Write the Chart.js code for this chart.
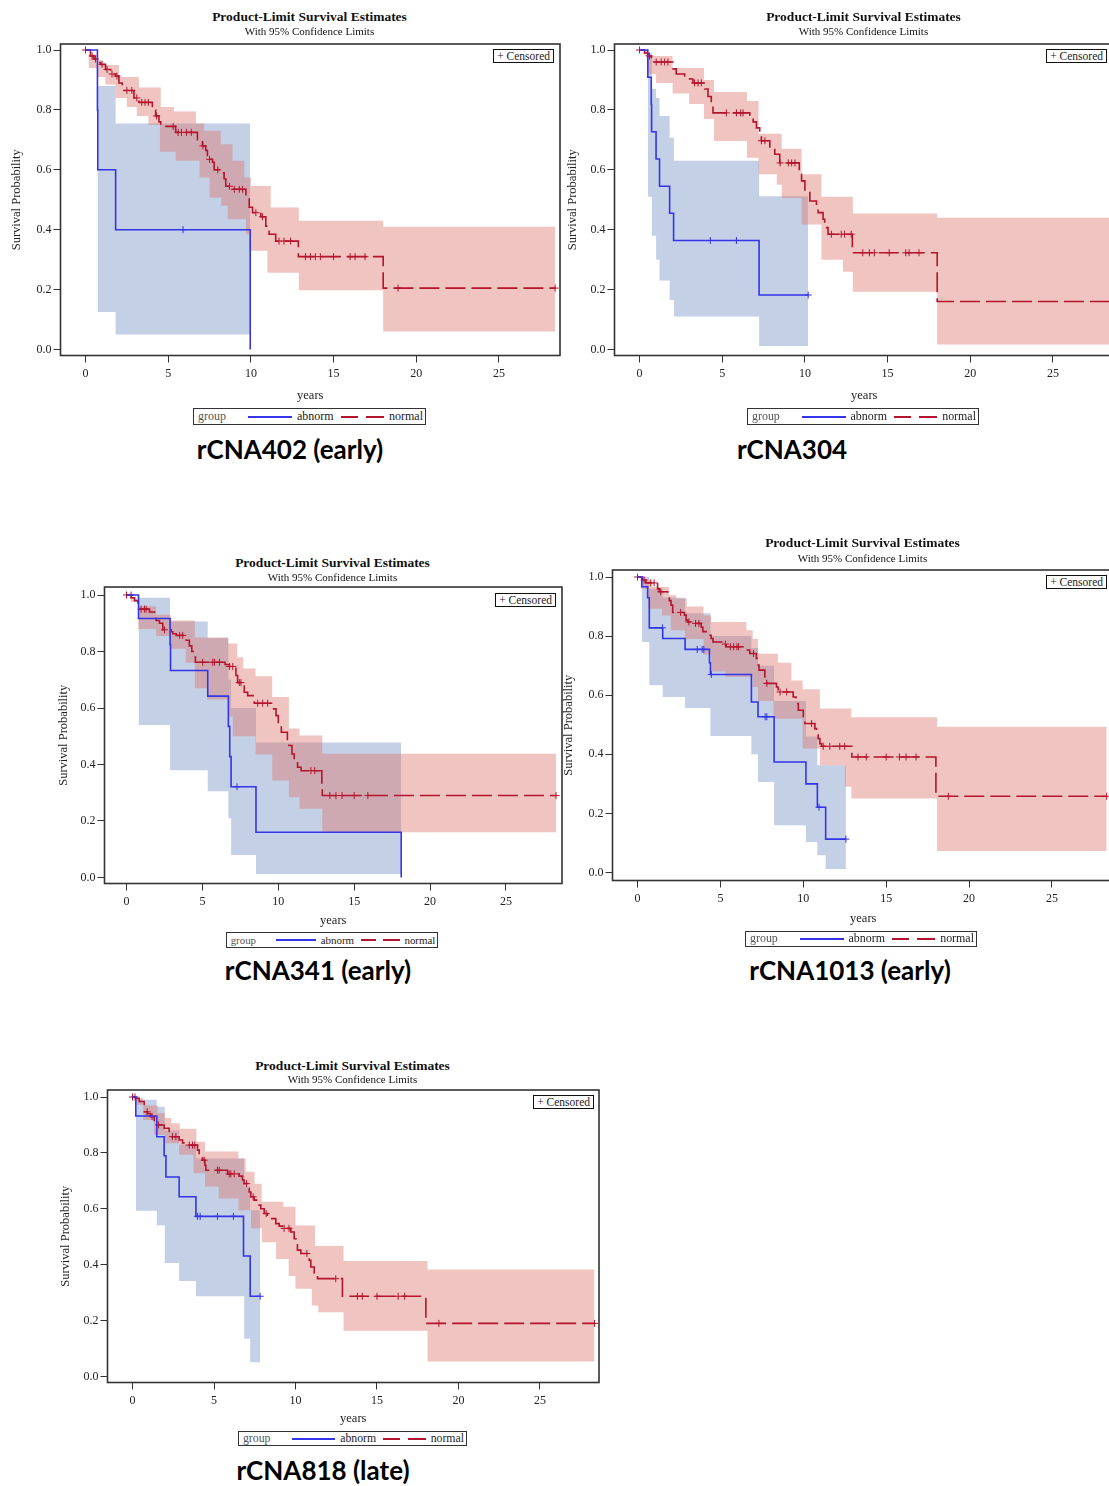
<!DOCTYPE html>
<html>
<head>
<meta charset="utf-8">
<script src="https://cdn.jsdelivr.net/npm/chart.js@4.4.1/dist/chart.umd.min.js"></script>
<style>
  html, body { margin: 0; padding: 0; background: #fff; }
  body { width: 1109px; height: 1486px; position: relative; overflow: hidden;
         font-family: "Liberation Serif", "DejaVu Serif", serif; color: #222; }
  canvas { position: absolute; }
  .t { position: absolute; white-space: nowrap; transform: translate(-50%, -50%); }
  .title { font-weight: bold; font-size: 13.5px; color: #111; }
  .sub { font-size: 11px; color: #111; }
  .caption { font-family: Lato, "Noto Sans", sans-serif; font-weight: 700; font-size: 26px; color: #000; }
  .legend { position: absolute; border: 1.5px solid #333; box-sizing: border-box; }
  .legend span { position: absolute; top: 50%; transform: translateY(-52%); white-space: nowrap; }
  .legend b { position: absolute; top: 50%; height: 2px; margin-top: -1px; display: block; }
  .cens { position: absolute; border: 1.6px solid #111; font-size: 11.5px; padding: 0 3px; line-height: 12px;
          background: #fff; white-space: nowrap; }
</style>
</head>
<body>
<script>
// Kaplan-Meier panels: abnorm vs normal, with 95% confidence bands
(function() {
  'use strict';

  var xTickValues = [0, 5, 10, 15, 20, 25];
  var xTickLabels = ['0', '5', '10', '15', '20', '25'];
  var yTickValues = [0, 0.2, 0.4, 0.6, 0.8, 1.0];
  var yTickLabels = ['0.0', '0.2', '0.4', '0.6', '0.8', '1.0'];
  var groupNames = ['abnorm', 'normal'];
  var panelCaptions = ['rCNA402 (early)', 'rCNA304', 'rCNA341 (early)', 'rCNA1013 (early)', 'rCNA818 (late)'];

  // ---- rCNA402 (early)
  var p1AbnT = [0.72, 0.74, 1.82, 9.96];
  var p1AbnS = [0.80, 0.60, 0.40, 0.0];
  var p1AbnCens = [5.9];
  var p1AbnEnd = 9.96;
  var p1AbnBandT = [0.72, 1.82];
  var p1AbnUp = [0.88, 0.755];
  var p1AbnLo = [0.125, 0.05];
  var p1NorT = [0.30, 0.51, 0.71, 0.91, 1.21, 1.52, 1.82, 2.02, 2.22, 2.93, 3.23, 4.04, 4.24, 4.44, 4.55, 5.45, 6.77, 7.07, 7.27, 7.37, 7.68, 7.78, 8.08, 8.38, 8.48, 8.79, 9.70, 9.90, 10.1, 10.6, 10.9, 11.1, 11.5, 12.87, 18.0];
  var p1NorS = [0.98, 0.97, 0.958, 0.952, 0.935, 0.92, 0.913, 0.89, 0.865, 0.84, 0.825, 0.80, 0.78, 0.76, 0.745, 0.725, 0.70, 0.68, 0.665, 0.635, 0.625, 0.60, 0.59, 0.57, 0.545, 0.535, 0.507, 0.475, 0.457, 0.443, 0.412, 0.385, 0.362, 0.31, 0.205];
  var p1NorCens = [0, 0.4, 0.6, 1.0, 1.3, 1.6, 1.9, 2.5, 2.8, 3.1, 3.4, 3.6, 3.8, 4.3, 5.3, 5.6, 5.8, 6.1, 6.4, 7.1, 7.5, 8.0, 8.7, 9.0, 9.3, 9.5, 10.3, 10.7, 11.7, 12.0, 12.4, 13.3, 13.6, 13.9, 14.2, 15.0, 16.0, 16.3, 16.9, 18.9, 28.4];
  var p1NorEnd = 28.4;
  var p1NorUpT = [0, 0.2, 0.71, 1.01, 2.02, 3.23, 4.55, 5.35, 6.67, 7.17, 8.18, 8.89, 9.6, 10.0, 11.2, 12.9, 18.0];
  var p1NorUp = [1.0, 0.985, 0.966, 0.95, 0.91, 0.875, 0.81, 0.795, 0.755, 0.73, 0.685, 0.63, 0.574, 0.546, 0.474, 0.43, 0.41];
  var p1NorLoT = [0, 0.2, 0.7, 1.2, 1.82, 2.5, 3.1, 3.8, 4.5, 5.45, 6.9, 7.5, 8.2, 8.6, 9.7, 9.9, 11.0, 12.9, 18.0];
  var p1NorLo = [1.0, 0.94, 0.91, 0.885, 0.84, 0.81, 0.78, 0.75, 0.66, 0.63, 0.574, 0.507, 0.48, 0.435, 0.385, 0.33, 0.256, 0.198, 0.06];

  // ---- rCNA304
  var p2AbnT = [0.5, 0.71, 0.73, 1.0, 1.21, 1.82, 2.06, 7.23];
  var p2AbnS = [0.909, 0.818, 0.727, 0.636, 0.545, 0.455, 0.364, 0.182];
  var p2AbnCens = [4.28, 5.86, 10.2];
  var p2AbnEnd = 10.2;
  var p2AbnBandT = [0.5, 0.75, 1.0, 1.21, 1.82, 2.08, 7.23];
  var p2AbnUp = [0.99, 0.87, 0.84, 0.78, 0.707, 0.63, 0.512];
  var p2AbnLo = [0.51, 0.38, 0.30, 0.23, 0.165, 0.11, 0.012];
  var p2NorT = [0.3, 0.51, 0.71, 2.02, 2.22, 2.73, 3.03, 3.23, 3.94, 4.14, 4.34, 4.44, 6.67, 6.87, 7.07, 7.27, 7.37, 7.88, 8.18, 8.48, 9.66, 9.8, 10.0, 10.3, 10.7, 10.8, 11.1, 11.2, 11.4, 12.87, 18.0];
  var p2NorS = [0.99, 0.98, 0.96, 0.937, 0.92, 0.91, 0.903, 0.89, 0.87, 0.845, 0.82, 0.79, 0.775, 0.76, 0.74, 0.72, 0.697, 0.672, 0.652, 0.623, 0.585, 0.563, 0.53, 0.496, 0.474, 0.457, 0.435, 0.407, 0.385, 0.323, 0.16];
  var p2NorCens = [0, 0.6, 1.01, 1.31, 1.52, 1.72, 3.33, 3.54, 3.74, 5.25, 5.86, 6.12, 6.26, 7.37, 7.58, 8.5, 9.0, 9.2, 9.4, 11.6, 12.2, 12.4, 12.8, 13.5, 13.9, 14.2, 15.1, 16.1, 16.3, 16.9, 28.5];
  var p2NorEnd = 28.5;
  var p2NorUpT = [0, 0.3, 2.0, 3.9, 4.5, 6.5, 7.2, 8.6, 9.8, 11.0, 12.9, 18.0];
  var p2NorUp = [1.0, 0.98, 0.94, 0.90, 0.86, 0.83, 0.72, 0.67, 0.585, 0.51, 0.454, 0.44];
  var p2NorLoT = [0, 0.5, 1.0, 2.0, 3.0, 3.9, 4.5, 6.5, 7.2, 8.3, 8.6, 9.8, 11.0, 12.3, 12.9, 18.0];
  var p2NorLo = [1.0, 0.92, 0.89, 0.855, 0.82, 0.77, 0.696, 0.64, 0.585, 0.55, 0.506, 0.417, 0.30, 0.26, 0.193, 0.017];

  // ---- rCNA341 (early)
  var p3AbnT = [0.79, 2.87, 2.9, 5.35, 6.71, 6.8, 6.89, 8.53, 18.1];
  var p3AbnS = [0.917, 0.825, 0.733, 0.642, 0.535, 0.428, 0.321, 0.16, 0.0];
  var p3AbnCens = [7.28];
  var p3AbnEnd = 18.1;
  var p3AbnBandT = [0.79, 2.87, 5.35, 6.71, 6.89, 8.53];
  var p3AbnUp = [0.99, 0.906, 0.848, 0.70, 0.60, 0.478];
  var p3AbnLo = [0.54, 0.38, 0.305, 0.21, 0.08, 0.012];
  var p3NorT = [0.31, 0.53, 0.75, 1.51, 1.84, 1.95, 2.17, 2.39, 2.94, 3.05, 3.27, 3.93, 4.14, 4.3, 4.47, 4.54, 6.49, 6.78, 7.21, 7.32, 7.76, 7.98, 8.42, 9.69, 9.85, 10.0, 10.2, 10.6, 10.7, 10.9, 11.05, 11.27, 11.5, 12.87, 12.9];
  var p3NorS = [0.99, 0.98, 0.95, 0.94, 0.93, 0.91, 0.90, 0.877, 0.87, 0.863, 0.857, 0.84, 0.82, 0.80, 0.78, 0.762, 0.754, 0.747, 0.715, 0.69, 0.656, 0.644, 0.617, 0.597, 0.573, 0.538, 0.514, 0.485, 0.467, 0.437, 0.414, 0.39, 0.378, 0.33, 0.29];
  var p3NorCens = [0, 0.3, 0.96, 1.18, 1.29, 2.5, 3.5, 3.7, 5.02, 5.68, 5.79, 6.12, 6.78, 7.0, 7.43, 7.54, 8.64, 8.97, 9.3, 12.15, 12.4, 13.4, 13.8, 14.2, 15.0, 15.9, 28.3];
  var p3NorEnd = 28.3;
  var p3NorUpT = [0, 0.3, 0.75, 1.95, 2.9, 4.5, 6.7, 7.3, 7.7, 8.5, 9.6, 10.7, 11.4, 12.9];
  var p3NorUp = [1.0, 0.985, 0.96, 0.93, 0.91, 0.85, 0.828, 0.78, 0.74, 0.712, 0.639, 0.527, 0.503, 0.438];
  var p3NorLoT = [0, 0.3, 0.78, 1.95, 2.9, 3.9, 4.5, 5.3, 6.7, 7.0, 8.5, 9.6, 10.7, 11.4, 12.9];
  var p3NorLo = [1.0, 0.975, 0.88, 0.855, 0.81, 0.76, 0.67, 0.63, 0.57, 0.50, 0.435, 0.343, 0.284, 0.243, 0.16];

  // ---- rCNA1013 (early)
  var p4AbnT = [0.26, 0.61, 0.71, 1.52, 2.87, 4.34, 4.40, 6.87, 7.27, 8.24, 10.16, 10.85, 11.35];
  var p4AbnS = [0.967, 0.93, 0.828, 0.792, 0.755, 0.71, 0.67, 0.577, 0.527, 0.374, 0.30, 0.221, 0.113];
  var p4AbnCens = [1.5, 3.6, 3.9, 4.0, 4.45, 7.7, 7.8, 10.95, 12.57];
  var p4AbnEnd = 12.57;
  var p4AbnBandT = [0.26, 0.71, 1.52, 2.87, 4.4, 6.87, 7.27, 8.24, 10.16, 10.85, 11.35];
  var p4AbnUp = [1.0, 0.96, 0.93, 0.877, 0.80, 0.76, 0.70, 0.58, 0.46, 0.363, 0.363];
  var p4AbnLo = [0.78, 0.634, 0.594, 0.557, 0.462, 0.40, 0.306, 0.16, 0.103, 0.058, 0.012];
  var p4NorT = [0.3, 0.5, 1.21, 1.31, 1.82, 1.92, 2.02, 2.12, 2.83, 2.93, 3.03, 3.23, 3.84, 3.94, 4.24, 4.44, 4.55, 5.15, 5.35, 6.57, 6.77, 7.17, 7.27, 7.33, 7.68, 7.78, 8.38, 8.48, 9.39, 9.56, 9.7, 10.0, 10.1, 10.7, 10.8, 10.9, 11.0, 11.1, 12.93, 18.0];
  var p4NorS = [0.99, 0.98, 0.96, 0.95, 0.944, 0.92, 0.905, 0.88, 0.871, 0.854, 0.848, 0.843, 0.83, 0.815, 0.803, 0.792, 0.78, 0.773, 0.764, 0.753, 0.741, 0.724, 0.702, 0.685, 0.662, 0.64, 0.628, 0.611, 0.594, 0.572, 0.549, 0.527, 0.504, 0.487, 0.47, 0.453, 0.436, 0.427, 0.391, 0.258];
  var p4NorCens = [0, 0.4, 0.8, 1.0, 1.4, 2.6, 3.1, 3.5, 3.7, 5.3, 5.6, 5.8, 6.0, 6.1, 7.0, 7.8, 8.6, 9.0, 10.5, 11.2, 11.6, 12.2, 12.5, 13.3, 13.8, 15.0, 15.8, 16.2, 16.8, 18.75, 28.3];
  var p4NorEnd = 28.3;
  var p4NorUpT = [0, 0.2, 0.85, 1.9, 2.33, 2.97, 3.98, 4.45, 6.57, 6.95, 7.27, 8.47, 9.28, 9.96, 11.0, 12.9, 18.07];
  var p4NorUp = [1.0, 0.99, 0.966, 0.938, 0.927, 0.90, 0.87, 0.848, 0.82, 0.79, 0.74, 0.71, 0.65, 0.62, 0.555, 0.525, 0.493];
  var p4NorLoT = [0, 0.2, 0.64, 1.48, 2.0, 2.86, 3.98, 4.45, 5.3, 6.95, 7.27, 8.2, 9.96, 11.0, 12.5, 12.9, 18.07];
  var p4NorLo = [1.0, 0.96, 0.893, 0.87, 0.82, 0.79, 0.738, 0.68, 0.662, 0.628, 0.58, 0.52, 0.42, 0.363, 0.29, 0.25, 0.073];

  // ---- rCNA818 (late)
  var p5AbnT = [0.2, 1.49, 1.94, 2.05, 2.86, 3.89, 6.81, 7.22];
  var p5AbnS = [0.932, 0.858, 0.79, 0.714, 0.643, 0.573, 0.431, 0.287];
  var p5AbnCens = [3.99, 4.15, 5.21, 6.19, 7.83];
  var p5AbnEnd = 7.83;
  var p5AbnBandT = [0.2, 1.49, 1.98, 2.86, 3.89, 6.85, 7.22];
  var p5AbnUp = [0.99, 0.965, 0.88, 0.83, 0.78, 0.68, 0.595];
  var p5AbnLo = [0.593, 0.541, 0.406, 0.342, 0.287, 0.135, 0.051];
  var p5NorT = [0.2, 0.41, 0.72, 0.92, 1.12, 1.33, 1.53, 1.94, 2.25, 2.86, 3.07, 3.27, 3.99, 4.09, 4.29, 4.44, 4.5, 5.83, 6.54, 6.75, 6.85, 7.06, 7.16, 7.26, 7.46, 7.67, 7.87, 8.08, 8.28, 8.79, 9.0, 9.2, 9.71, 9.92, 10.12, 10.33, 10.84, 10.94, 11.15, 11.35, 12.88, 18.0];
  var p5NorS = [0.995, 0.984, 0.947, 0.94, 0.93, 0.905, 0.90, 0.888, 0.858, 0.846, 0.836, 0.828, 0.81, 0.792, 0.774, 0.756, 0.738, 0.725, 0.717, 0.703, 0.69, 0.673, 0.66, 0.643, 0.631, 0.613, 0.60, 0.583, 0.565, 0.547, 0.538, 0.53, 0.517, 0.493, 0.452, 0.44, 0.416, 0.392, 0.37, 0.35, 0.287, 0.19];
  var p5NorCens = [0, 0.15, 0.9, 1.2, 1.6, 2.45, 2.66, 3.48, 3.68, 3.82, 4.4, 5.21, 5.32, 5.93, 6.03, 6.24, 7.0, 7.4, 8.2, 9.3, 9.6, 10.7, 12.47, 13.8, 14.1, 15.0, 16.3, 16.7, 18.8, 28.35];
  var p5NorEnd = 28.35;
  var p5NorUpT = [0, 0.22, 0.66, 1.54, 1.98, 2.38, 2.9, 3.92, 4.45, 6.5, 6.94, 7.49, 7.93, 9.25, 10.0, 11.2, 12.95, 18.1];
  var p5NorUp = [1.0, 0.996, 0.97, 0.943, 0.925, 0.906, 0.886, 0.84, 0.805, 0.78, 0.733, 0.69, 0.625, 0.607, 0.54, 0.467, 0.413, 0.383];
  var p5NorLoT = [0, 0.22, 0.66, 1.32, 1.98, 2.86, 3.74, 4.45, 5.29, 6.5, 7.27, 7.93, 8.81, 9.58, 10.0, 11.0, 11.4, 12.95, 18.1];
  var p5NorLo = [1.0, 0.972, 0.918, 0.865, 0.835, 0.793, 0.727, 0.68, 0.637, 0.595, 0.53, 0.48, 0.42, 0.36, 0.314, 0.254, 0.23, 0.164, 0.054];

  var panels = [
    { abnT: p1AbnT, abnS: p1AbnS, abnCens: p1AbnCens, abnEnd: p1AbnEnd, abnBandT: p1AbnBandT, abnUp: p1AbnUp, abnLo: p1AbnLo,
      norT: p1NorT, norS: p1NorS, norCens: p1NorCens, norEnd: p1NorEnd, norUpT: p1NorUpT, norUp: p1NorUp, norLoT: p1NorLoT, norLo: p1NorLo },
    { abnT: p2AbnT, abnS: p2AbnS, abnCens: p2AbnCens, abnEnd: p2AbnEnd, abnBandT: p2AbnBandT, abnUp: p2AbnUp, abnLo: p2AbnLo,
      norT: p2NorT, norS: p2NorS, norCens: p2NorCens, norEnd: p2NorEnd, norUpT: p2NorUpT, norUp: p2NorUp, norLoT: p2NorLoT, norLo: p2NorLo },
    { abnT: p3AbnT, abnS: p3AbnS, abnCens: p3AbnCens, abnEnd: p3AbnEnd, abnBandT: p3AbnBandT, abnUp: p3AbnUp, abnLo: p3AbnLo,
      norT: p3NorT, norS: p3NorS, norCens: p3NorCens, norEnd: p3NorEnd, norUpT: p3NorUpT, norUp: p3NorUp, norLoT: p3NorLoT, norLo: p3NorLo },
    { abnT: p4AbnT, abnS: p4AbnS, abnCens: p4AbnCens, abnEnd: p4AbnEnd, abnBandT: p4AbnBandT, abnUp: p4AbnUp, abnLo: p4AbnLo,
      norT: p4NorT, norS: p4NorS, norCens: p4NorCens, norEnd: p4NorEnd, norUpT: p4NorUpT, norUp: p4NorUp, norLoT: p4NorLoT, norLo: p4NorLo },
    { abnT: p5AbnT, abnS: p5AbnS, abnCens: p5AbnCens, abnEnd: p5AbnEnd, abnBandT: p5AbnBandT, abnUp: p5AbnUp, abnLo: p5AbnLo,
      norT: p5NorT, norS: p5NorS, norCens: p5NorCens, norEnd: p5NorEnd, norUpT: p5NorUpT, norUp: p5NorUp, norLoT: p5NorLoT, norLo: p5NorLo }
  ];

  // page placement of each panel (frame = plot box l,t,r,b; pixel positions of x=0, x=25, y=1, y=0)
  var layouts = [
    { frame: [60, 44, 559, 355], x0: 85, x25: 498, y1: 50, y0: 349, yTitleX: 16, yearsY: 395, titleY: 17, subY: 31,
      legend: [193, 408, 233, 17], caption: [290, 449], cens: [554, 49] },
    { frame: [614, 44, 1113, 355], x0: 639, x25: 1052, y1: 50, y0: 349, yTitleX: 572, yearsY: 395, titleY: 17, subY: 31,
      legend: [747, 408, 232, 17], caption: [792, 449], cens: [1107, 49] },
    { frame: [104, 587, 561, 883], x0: 126, x25: 505, y1: 595, y0: 877, yTitleX: 63, yearsY: 920, titleY: 563, subY: 577,
      legend: [226, 932, 212, 16], caption: [318, 970], cens: [556, 593] },
    { frame: [612, 570, 1113, 880], x0: 637, x25: 1051, y1: 577, y0: 872, yTitleX: 568, yearsY: 918, titleY: 543, subY: 558,
      legend: [745, 931, 232, 16], caption: [850, 970], cens: [1107, 575] },
    { frame: [107, 1090, 598, 1382], x0: 132, x25: 539, y1: 1097, y0: 1376, yTitleX: 65, yearsY: 1418, titleY: 1066, subY: 1079,
      legend: [238, 1431, 229, 15], caption: [323, 1470], cens: [594, 1095] }
  ];

  var abnColor = '#3434ea';
  var norColor = '#b5142d';
  var abnFill = 'rgba(115, 146, 197, 0.43)';
  var norFill = 'rgba(220, 118, 108, 0.43)';
  var serif = "'Liberation Serif', 'DejaVu Serif', serif";

  function survAt(times, surv, t) {
    var s = 1;
    for (var i = 0; i < times.length; i++) {
      if (times[i] <= t) s = surv[i];
    }
    return s;
  }

  function kmPoints(times, surv, end) {
    var pts = [{ x: 0, y: 1 }];
    for (var i = 0; i < times.length; i++) pts.push({ x: times[i], y: surv[i] });
    pts.push({ x: end, y: surv[surv.length - 1] });
    return pts;
  }

  function bandPoints(times, vals, end) {
    var pts = times.map(function(t, i) { return { x: t, y: vals[i] }; });
    pts.push({ x: end, y: vals[vals.length - 1] });
    return pts;
  }

  function censorPoints(cens, times, surv) {
    return cens.map(function(t) { return { x: t, y: survAt(times, surv, t) }; });
  }

  var framePlugin = {
    id: 'frame',
    afterDatasetsDraw: function(chart) {
      var a = chart.chartArea, ctx = chart.ctx;
      ctx.save();
      ctx.strokeStyle = '#333';
      ctx.lineWidth = 1.6;
      ctx.strokeRect(a.left, a.top, a.right - a.left, a.bottom - a.top);
      ctx.restore();
    }
  };

  function put(cls, text, x, y) {
    var d = document.createElement('div');
    d.className = 't ' + cls;
    d.textContent = text;
    d.style.left = x + 'px';
    d.style.top = y + 'px';
    document.body.appendChild(d);
  }

  function putLegend(box) {
    var el = document.createElement('div');
    el.className = 'legend';
    el.style.left = box[0] + 'px';
    el.style.top = box[1] + 'px';
    el.style.width = box[2] + 'px';
    el.style.height = box[3] + 'px';
    var k = box[2] / 233;
    el.style.fontSize = (12 * k) + 'px';
    function span(text, x, color) {
      var s = document.createElement('span');
      s.textContent = text;
      s.style.left = (x * k) + 'px';
      s.style.color = color;
      el.appendChild(s);
    }
    function seg(x, w, color) {
      var b = document.createElement('b');
      b.style.left = (x * k) + 'px';
      b.style.width = (w * k) + 'px';
      b.style.background = color;
      el.appendChild(b);
    }
    span('group', 4, '#555');
    seg(54, 44, abnColor);
    span(groupNames[0], 103, '#222');
    seg(147, 17, norColor);
    seg(172, 18, norColor);
    span(groupNames[1], 195, '#222');
    document.body.appendChild(el);
  }

  function putCensored(pos) {
    var d = document.createElement('div');
    d.className = 'cens';
    d.textContent = '+ Censored';
    d.style.top = pos[1] + 'px';
    d.style.right = (1109 - pos[0]) + 'px';
    document.body.appendChild(d);
  }

  function buildPanel(p, L, idx) {
    var fl = L.frame[0], ft = L.frame[1], fr = L.frame[2], fb = L.frame[3];
    var pxYear = (L.x25 - L.x0) / 25;
    var pxUnit = L.y0 - L.y1;
    var xmin = (fl - L.x0) / pxYear;
    var xmax = (fr - L.x0) / pxYear;
    var ymax = 1 + (L.y1 - ft) / pxUnit;
    var ymin = -(fb - L.y0) / pxUnit;

    var left = L.yTitleX - 7.5;
    var top = ft - 12;
    var right = fr + 10;
    var bottom = L.yearsY + 7.5;
    var yAxisW = fl - left;
    var xAxisH = bottom - fb;

    var canvas = document.createElement('canvas');
    canvas.width = Math.round(right - left);
    canvas.height = Math.round(bottom - top);
    canvas.style.left = left + 'px';
    canvas.style.top = top + 'px';
    canvas.style.width = canvas.width + 'px';
    canvas.style.height = canvas.height + 'px';
    document.body.appendChild(canvas);

    var datasets = [
      { label: groupNames[0], data: kmPoints(p.abnT, p.abnS, p.abnEnd), stepped: true,
        borderColor: abnColor, borderWidth: 1.6, pointRadius: 0, fill: false },
      { label: groupNames[1], data: kmPoints(p.norT, p.norS, p.norEnd), stepped: true,
        borderColor: norColor, borderWidth: 1.6, borderDash: [20, 6], pointRadius: 0, fill: false },
      { label: 'abnCens', data: censorPoints(p.abnCens, p.abnT, p.abnS), showLine: false,
        pointStyle: 'cross', pointRadius: 3.5, pointBorderWidth: 1, pointBorderColor: abnColor, borderColor: abnColor },
      { label: 'norCens', data: censorPoints(p.norCens, p.norT, p.norS), showLine: false,
        pointStyle: 'cross', pointRadius: 3.5, pointBorderWidth: 1, pointBorderColor: norColor, borderColor: norColor },
      { label: 'norUp', data: bandPoints(p.norUpT, p.norUp, p.norEnd), stepped: true,
        borderWidth: 0, borderColor: 'transparent', pointRadius: 0, fill: '+1', backgroundColor: norFill },
      { label: 'norLo', data: bandPoints(p.norLoT, p.norLo, p.norEnd), stepped: true,
        borderWidth: 0, borderColor: 'transparent', pointRadius: 0, fill: false },
      { label: 'abnUp', data: bandPoints(p.abnBandT, p.abnUp, p.abnEnd), stepped: true,
        borderWidth: 0, borderColor: 'transparent', pointRadius: 0, fill: '+1', backgroundColor: abnFill },
      { label: 'abnLo', data: bandPoints(p.abnBandT, p.abnLo, p.abnEnd), stepped: true,
        borderWidth: 0, borderColor: 'transparent', pointRadius: 0, fill: false }
    ];

    new Chart(canvas.getContext('2d'), {
      type: 'line',
      data: { datasets: datasets },
      plugins: [framePlugin],
      options: {
        responsive: false,
        animation: false,
        devicePixelRatio: 1,
        events: [],
        layout: { padding: { top: ft - top, right: right - fr, left: 0, bottom: 0 } },
        plugins: { legend: { display: false }, tooltip: { enabled: false }, title: { display: false } },
        scales: {
          x: {
            type: 'linear', min: xmin, max: xmax,
            afterBuildTicks: function(s) { s.ticks = xTickValues.map(function(v) { return { value: v }; }); },
            afterFit: function(s) { s.height = xAxisH; },
            grid: { drawOnChartArea: false, drawTicks: true, tickLength: 7, color: '#333', lineWidth: 1 },
            border: { display: false },
            ticks: { color: '#222', font: { family: serif, size: 12 }, padding: 4, maxRotation: 0, autoSkip: false,
                     callback: function(v, i) { return xTickLabels[i]; } },
            title: { display: true, text: 'years', color: '#222', font: { family: serif, size: 12.5 }, padding: 0 }
          },
          y: {
            type: 'linear', min: ymin, max: ymax,
            afterBuildTicks: function(s) { s.ticks = yTickValues.map(function(v) { return { value: v }; }); },
            afterFit: function(s) { s.width = yAxisW; },
            grid: { drawOnChartArea: false, drawTicks: true, tickLength: 7, color: '#333', lineWidth: 1 },
            border: { display: false },
            ticks: { color: '#222', font: { family: serif, size: 12 }, padding: 2, autoSkip: false,
                     callback: function(v, i) { return yTickLabels[i]; } },
            title: { display: true, text: 'Survival Probability', color: '#222', font: { family: serif, size: 12.5 }, padding: 0 }
          }
        }
      }
    });

    var cx = (fl + fr) / 2;
    put('title', 'Product-Limit Survival Estimates', cx, L.titleY);
    put('sub', 'With 95% Confidence Limits', cx, L.subY);
    putCensored(L.cens);
    putLegend(L.legend);
    put('caption', panelCaptions[idx], L.caption[0], L.caption[1]);
  }

  function init() {
    panels.forEach(function(p, i) { buildPanel(p, layouts[i], i); });
  }

  if (document.readyState === 'loading') {
    document.addEventListener('DOMContentLoaded', init);
  } else {
    init();
  }
})();
</script>
</body>
</html>
